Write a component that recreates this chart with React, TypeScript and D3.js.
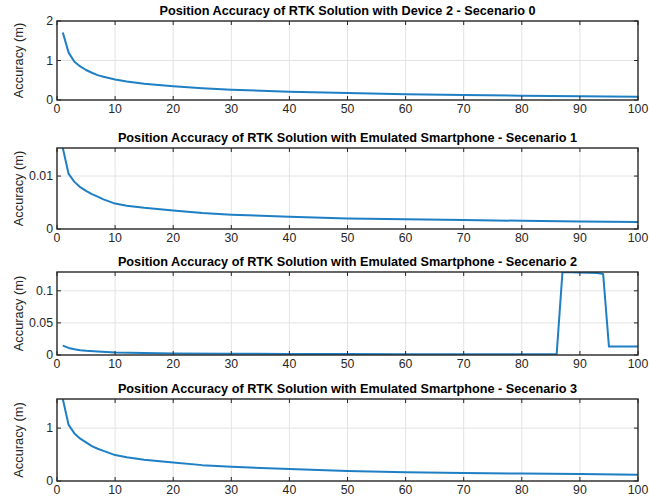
import React from "react";
import * as d3 from "d3";

// Sample positions (epoch index) and accuracy values for each scenario
const s0X = [1, 2, 3, 4, 5, 6, 7, 8, 10, 12, 15, 20, 25, 30, 40, 50, 60, 70, 80, 90, 100];
const s0Y = [1.71, 1.2, 0.97, 0.85, 0.76, 0.69, 0.63, 0.59, 0.52, 0.47, 0.41, 0.35, 0.3, 0.26, 0.21, 0.175, 0.145, 0.125, 0.11, 0.095, 0.085];

const s1X = [1, 2, 3, 4, 5, 6, 7, 8, 10, 12, 15, 20, 25, 30, 40, 50, 60, 70, 80, 90, 100];
const s1Y = [0.0153, 0.0104, 0.0089, 0.0079, 0.0072, 0.0066, 0.0061, 0.0056, 0.0048, 0.0044, 0.004, 0.0035, 0.003, 0.0027, 0.0023, 0.002, 0.00185, 0.0017, 0.00155, 0.0014, 0.0013];

const s2X = [1, 2, 3, 4, 5, 7, 10, 15, 20, 30, 40, 50, 60, 70, 80, 86, 87, 90, 93, 94, 95, 100];
const s2Y = [0.0147, 0.011, 0.009, 0.0075, 0.0065, 0.0055, 0.004, 0.003, 0.0025, 0.002, 0.0017, 0.0015, 0.0013, 0.0012, 0.0011, 0.001, 0.1293, 0.1286, 0.1279, 0.1262, 0.0131, 0.0131];

const s3X = [1, 2, 3, 4, 5, 6, 7, 8, 10, 12, 15, 20, 25, 30, 40, 50, 60, 70, 80, 90, 100];
const s3Y = [1.55, 1.06, 0.9, 0.8, 0.73, 0.66, 0.61, 0.57, 0.49, 0.45, 0.4, 0.35, 0.3, 0.27, 0.225, 0.19, 0.165, 0.15, 0.14, 0.13, 0.12];

const xTicks = [0, 10, 20, 30, 40, 50, 60, 70, 80, 90, 100];

const titles = [
  "Position Accuracy of RTK Solution with Device 2 - Secenario 0",
  "Position Accuracy of RTK Solution with Emulated Smartphone - Secenario 1",
  "Position Accuracy of RTK Solution with Emulated Smartphone - Secenario 2",
  "Position Accuracy of RTK Solution with Emulated Smartphone - Secenario 3",
];
const yMaxes = [2, 0.0153, 0.1293, 1.55];
const yTickSets = [[0, 1, 2], [0, 0.01], [0, 0.05, 0.1], [0, 1]];
const yLabel = "Accuracy (m)";

const W = 649;
const H = 503;
const left = 57;
const right = 638;
const panels = [
  { top: 21, bottom: 100 },
  { top: 148, bottom: 229 },
  { top: 272, bottom: 355 },
  { top: 399, bottom: 481 },
];

const series = [
  { xs: s0X, ys: s0Y },
  { xs: s1X, ys: s1Y },
  { xs: s2X, ys: s2Y },
  { xs: s3X, ys: s3Y },
];

const FONT = "'Liberation Sans', Arial, Helvetica, sans-serif";
const AXIS = "#262626";
const GRID = "#e3e3e3";
const LINE = "#1f7fc4";

function Panel({ i }: { i: number }) {
  const { top, bottom } = panels[i];
  const x = d3.scaleLinear().domain([0, 100]).range([left, right]);
  const y = d3.scaleLinear().domain([0, yMaxes[i]]).range([bottom, top]);
  const { xs, ys } = series[i];
  const pts: [number, number][] = xs.map((v, k) => [v, ys[k]]);
  const path = d3
    .line<[number, number]>()
    .x((d) => x(d[0]))
    .y((d) => y(d[1]))(pts) as string;
  const clipId = `clip-${i}`;
  const tickLen = 4;
  return (
    <g>
      <defs>
        <clipPath id={clipId}>
          <rect x={left} y={top} width={right - left} height={bottom - top} />
        </clipPath>
      </defs>
      {/* grid */}
      {xTicks.slice(1, -1).map((t) => (
        <line key={`gx${t}`} x1={x(t)} x2={x(t)} y1={top} y2={bottom} stroke={GRID} strokeWidth={1} />
      ))}
      {yTickSets[i]
        .filter((t) => t > 0 && t < yMaxes[i])
        .map((t) => (
          <line key={`gy${t}`} x1={left} x2={right} y1={y(t)} y2={y(t)} stroke={GRID} strokeWidth={1} />
        ))}
      {/* data */}
      <path d={path} fill="none" stroke={LINE} strokeWidth={2} strokeLinejoin="round" clipPath={`url(#${clipId})`} />
      {/* ticks */}
      {xTicks.map((t) => (
        <g key={`tx${t}`}>
          <line x1={x(t)} x2={x(t)} y1={bottom} y2={bottom - tickLen} stroke={AXIS} strokeWidth={1} />
          <line x1={x(t)} x2={x(t)} y1={top} y2={top + tickLen} stroke={AXIS} strokeWidth={1} />
          <text x={x(t)} y={bottom + 12.5} textAnchor="middle" fontSize={12.3} fill={AXIS} fontFamily={FONT}>
            {t}
          </text>
        </g>
      ))}
      {yTickSets[i].map((t) => (
        <g key={`ty${t}`}>
          <line x1={left} x2={left + tickLen} y1={y(t)} y2={y(t)} stroke={AXIS} strokeWidth={1} />
          <line x1={right} x2={right - tickLen} y1={y(t)} y2={y(t)} stroke={AXIS} strokeWidth={1} />
          <text x={left - 4} y={y(t)} dy="0.35em" textAnchor="end" fontSize={12.3} fill={AXIS} fontFamily={FONT}>
            {String(t)}
          </text>
        </g>
      ))}
      {/* box */}
      <rect x={left} y={top} width={right - left} height={bottom - top} fill="none" stroke={AXIS} strokeWidth={1.4} />
      {/* labels */}
      <text
        x={(left + right) / 2}
        y={top - 6}
        textAnchor="middle"
        fontSize={12.7}
        fontWeight="bold"
        fill="#000"
        fontFamily={FONT}
      >
        {titles[i]}
      </text>
      <text
        transform={`translate(${23},${(top + bottom) / 2}) rotate(-90)`}
        textAnchor="middle"
        fontSize={12.8}
        fill={AXIS}
        fontFamily={FONT}
      >
        {yLabel}
      </text>
    </g>
  );
}

export default function App() {
  return (
    <svg
      width={W}
      height={H}
      viewBox={`0 0 ${W} ${H}`}
      style={{ position: "absolute", left: 0, top: 0, background: "#fff" }}
    >
      <rect x={0} y={0} width={W} height={H} fill="#fff" />
      {panels.map((_, i) => (
        <Panel key={i} i={i} />
      ))}
    </svg>
  );
}
